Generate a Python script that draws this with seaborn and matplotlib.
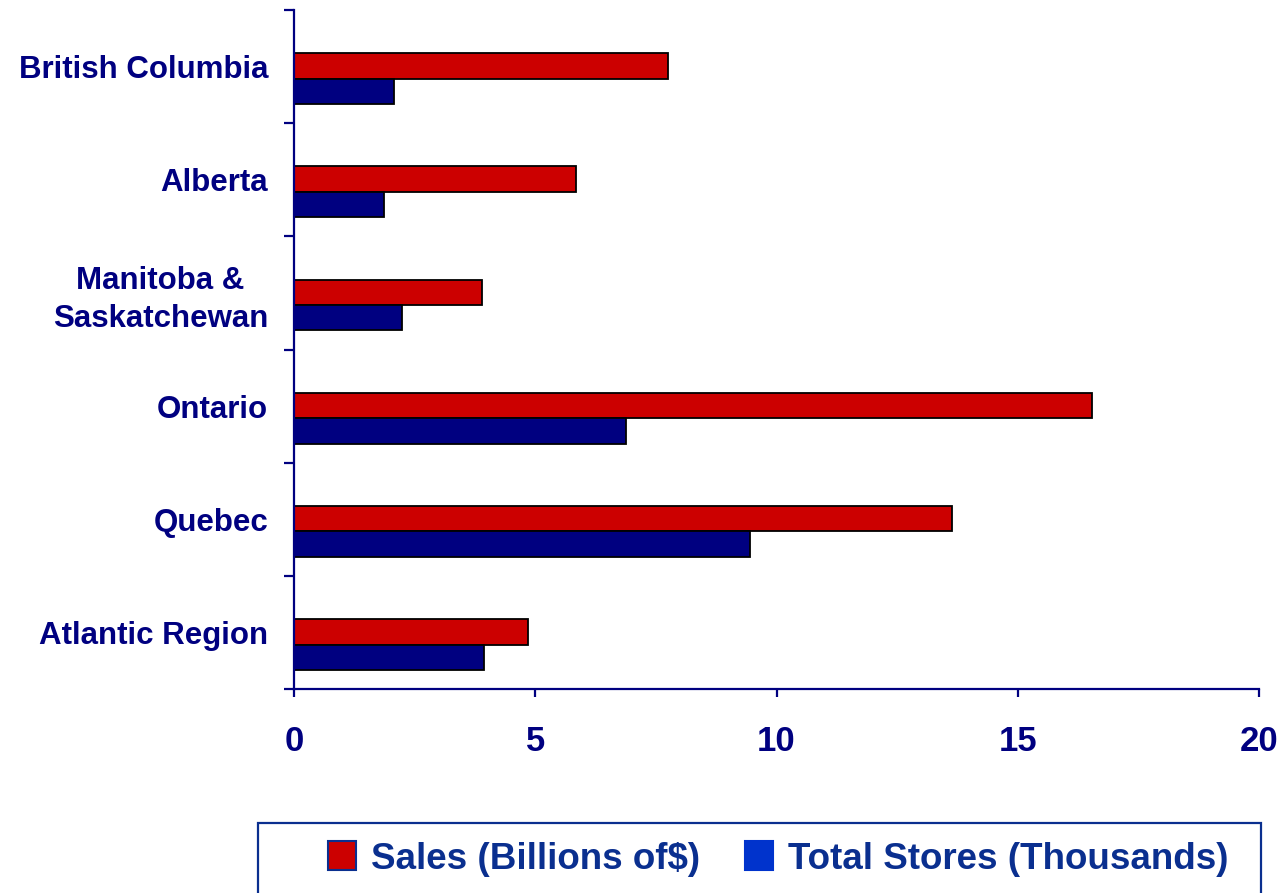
import matplotlib
matplotlib.use("Agg")
import matplotlib.pyplot as plt
from matplotlib.patches import Rectangle
from matplotlib.ticker import FixedLocator
import seaborn as sns
import pandas as pd

regions = ["British Columbia", "Alberta", "Manitoba &\nSaskatchewan",
           "Ontario", "Quebec", "Atlantic Region"]
sales = [7.75, 5.84, 3.90, 16.54, 13.64, 4.85]
stores = [2.07, 1.87, 2.24, 6.88, 9.45, 3.94]
series_names = ["Sales (Billions of$)", "Total Stores (Thousands)"]
x_ticks = [0, 5, 10, 15, 20]

df = pd.DataFrame({
    "Region": regions * 2,
    "Series": [series_names[0]] * len(regions) + [series_names[1]] * len(regions),
    "Value": sales + stores,
})

sns.set_theme(style="white")
plt.rcParams["font.family"] = ["Liberation Sans", "DejaVu Sans"]

NAVY = "#000080"
LEG = "#0a2f8f"

fig = plt.figure(figsize=(12.83, 8.93), dpi=100)
ax = fig.add_axes([294 / 1283, 1 - 689 / 893, (1259 - 294) / 1283, (689 - 10) / 893])

sns.barplot(data=df, y="Region", x="Value", hue="Series", order=regions,
            hue_order=series_names, palette=["#cc0000", NAVY], orient="h",
            width=0.45, edgecolor="black", linewidth=1.3, saturation=1,
            legend=True, ax=ax)

off = 0.107
ax.set_ylim(len(regions) - 0.5 - off, -0.5 - off)
ax.set_xlim(0, 20)
ax.set_xticks(x_ticks)
ax.set_xticklabels([str(t) for t in x_ticks])
ax.set_yticks([i - off for i in range(len(regions))])
ax.set_yticklabels(regions)
ax.yaxis.set_minor_locator(FixedLocator([i - 0.5 - off for i in range(len(regions) + 1)]))
ax.set_xlabel("")
ax.set_ylabel("")

for s in ["top", "right"]:
    ax.spines[s].set_visible(False)
for s in ["left", "bottom"]:
    ax.spines[s].set_color(NAVY)
    ax.spines[s].set_linewidth(1.6)

ax.tick_params(axis="y", which="major", length=0, pad=18.5, labelsize=22.5,
               labelcolor=NAVY)
ax.tick_params(axis="y", which="minor", left=True, length=7.5, width=1.6,
               color=NAVY, direction="out")
ax.tick_params(axis="x", which="major", bottom=True, length=6, width=1.6,
               color=NAVY, direction="out", pad=20, labelsize=25, labelcolor=NAVY)
for lab in ax.get_yticklabels() + ax.get_xticklabels():
    lab.set_fontweight("bold")
for lab in ax.get_yticklabels():
    lab.set_multialignment("center")
    lab.set_linespacing(1.35)

handles, labels = ax.get_legend_handles_labels()
ax.get_legend().remove()
leg = fig.legend(handles, labels, loc="center left",
                 bbox_to_anchor=(310 / 1283, 1 - 859 / 893), ncol=2,
                 frameon=False, borderpad=0, handlelength=0.76, handleheight=0.82,
                 handletextpad=0.41, columnspacing=1.2,
                 prop={"family": "Liberation Sans", "weight": "bold", "size": 26.5})
leg_cols = [("#cc0000", LEG), ("#0033cc", "#0033cc")]
for h, (fc, ec) in zip(leg.legend_handles, leg_cols):
    h.set_facecolor(fc)
    h.set_edgecolor(ec)
    h.set_linewidth(1.5)
for t in leg.get_texts():
    t.set_color(LEG)

fig.patches.append(Rectangle((258 / 1283, -0.05), (1261 - 258) / 1283,
                             (1 - 823 / 893) + 0.05, transform=fig.transFigure,
                             fill=False, edgecolor=LEG, linewidth=1.6))

fig.savefig("out.png", dpi=100)
